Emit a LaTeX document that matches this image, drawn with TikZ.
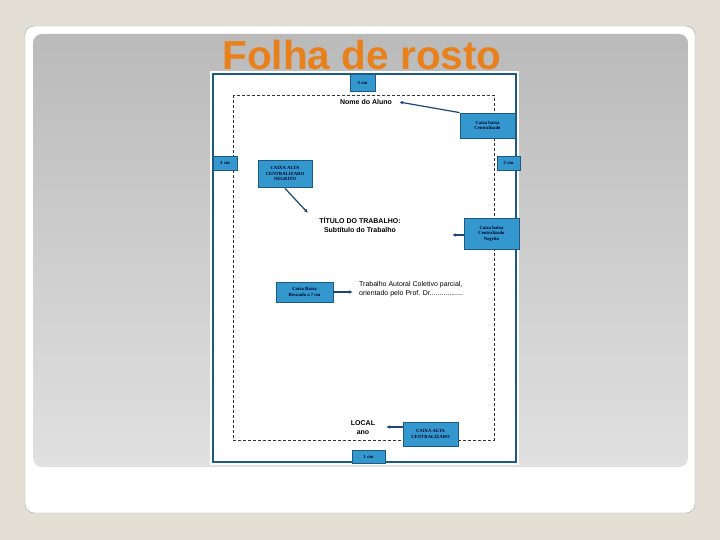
\documentclass[tikz,border=0pt]{standalone}
\usepackage{fontspec}
\setmainfont{Liberation Serif}
\newfontfamily\arialfont{Liberation Sans}
\usetikzlibrary{positioning,arrows.meta}
\definecolor{fundo}{RGB}{228,223,213}
\definecolor{laranja}{RGB}{232,128,28}
\definecolor{azulcaixa}{RGB}{52,152,206}
\definecolor{azulborda}{RGB}{28,90,130}
\definecolor{azulseta}{RGB}{30,70,115}
\tikzset{x=1pt, y=-1pt,
  caixa/.style={draw=azulborda, line width=0.8pt, fill=azulcaixa, text=black!85!blue,
    font=\bfseries\fontsize{4.7}{5.4}\selectfont, align=center, inner sep=0pt},
  texto/.style={font=\arialfont\fontsize{7}{8.5}\selectfont, inner sep=1pt},
  seta/.style={draw=azulseta, line width=1.2pt, -{Latex[length=4pt,width=3.5pt]}}}

\begin{document}
\begin{tikzpicture}
  % fundo e moldura do slide
  \fill[fundo] (0,0) rectangle (720,540);
  \draw[black!35, fill=white, rounded corners=9pt] (25,26) rectangle (695,513);
  \shade[shading=axis, shading angle=30, top color=black!27, bottom color=black!12, rounded corners=9pt] (33,34) rectangle (688,467);

  \node[text=laranja, font=\arialfont\bfseries\fontsize{40.5}{42}\selectfont] (titulo) at (362,55) {Folha de rosto};

  % folha
  \fill[white] (210,71) rectangle (519,465);
  \draw[azulborda, line width=2pt] (213,74) rectangle (516,462);
  \draw[black!80, line width=0.8pt, dash pattern=on 3pt off 2pt] (233,95) rectangle (494,440);

  % margens
  \node[caixa, minimum width=25pt, minimum height=17pt] (sup) at (362.5,82.5) {3 cm};
  \node[caixa, minimum width=24pt, minimum height=14pt] (esq) at (225,163) {3 cm};
  \node[caixa, minimum width=23pt, minimum height=14pt] (dir) at (508.5,163) {2 cm};
  \node[caixa, minimum width=33pt, minimum height=13pt] (inf) at (368.5,456.5) {1 cm};

  % textos da folha
  \node[texto, font=\arialfont\bfseries\fontsize{7}{8.5}\selectfont] (nome) at (366,102) {Nome do Aluno};
  \node[texto, font=\arialfont\bfseries\fontsize{7}{8.5}\selectfont, align=center] (trab) at (360,225)
    {TÍTULO DO TRABALHO:\\Subtítulo do Trabalho};
  \node[texto, align=left, anchor=west] (orient) at (358,289)
    {Trabalho Autoral Coletivo parcial,\\orientado pelo Prof. Dr.................};
  \node[texto, font=\arialfont\bfseries\fontsize{7}{8.5}\selectfont, align=center] (local) at (363,427.5)
    {LOCAL\\ano};

  % caixas explicativas
  \node[caixa, minimum width=55pt, minimum height=25pt] (cbc) at (487.5,125.5) {Caixa baixa\\Centralizado};
  \node[caixa, minimum width=54pt, minimum height=27pt] (can) at (285,173.5) {CAIXA ALTA\\CENTRALIZADO\\NEGRITO};
  \node[caixa, minimum width=55pt, minimum height=31pt] (cbn) at (491.5,233.5) {Caixa baixa\\Centralizado\\Negrito};
  \node[caixa, minimum width=57pt, minimum height=20pt] (rec) at (304.5,292) {Caixa Baixa\\Recuado a 7 cm};
  \node[caixa, minimum width=55pt, minimum height=24pt] (cac) at (430.5,434) {CAIXA ALTA\\CENTRALIZADO};

  \coordinate (p0) at (308,213);
  \coordinate (p1) at (452,235);
  \coordinate (p2) at (386,427);

  \draw[seta] (cbc.north west) -- ([xshift=6pt]nome.east);
  \draw[seta] ([yshift=-1pt]can.south) -- (p0);
  \draw[seta] (cbn.west |- p1) -- (p1);
  \draw[seta] (rec.east) -- ([xshift=-5pt]orient.west |- rec.east);
  \draw[seta] (cac.west |- p2) -- (p2);
\end{tikzpicture}
\end{document}
